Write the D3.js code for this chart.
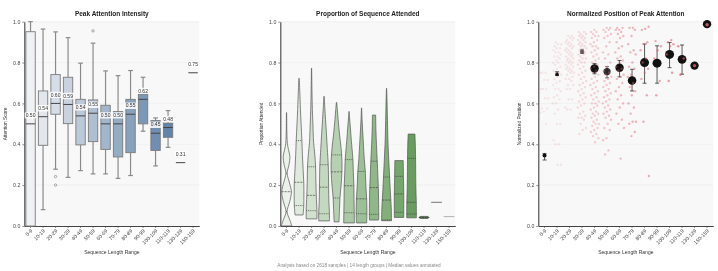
<!DOCTYPE html>
<html>
<head>
<meta charset="utf-8">
<script src="https://cdn.jsdelivr.net/npm/d3@7"></script>
<style>
    body { margin: 0; background: #fff; }
    svg { display: block; font-family: "Liberation Sans", Arial, sans-serif; will-change: transform; }
    text { -webkit-font-smoothing: antialiased; }
</style>
</head>
<body>
<div id="chart"></div>
<script>

//--- Data ---------------------------------------------------------------------------------
const groups = ['0-9', '10-19', '20-29', '30-39', '40-49', '50-59', '60-69', '70-79',
                '80-89', '90-99', '100-109', '110-119', '130-139', '150-159'];
const yTicks = [0, 0.2, 0.4, 0.6, 0.8, 1.0];

// peak attention intensity (box stats)
const boxLow    = [0.0, 0.08, 0.278, 0.238, 0.271, 0.255, 0.255, 0.233, 0.247, 0.464, 0.294, 0.385, 0.31, 0.75];
const boxQ1     = [0.0, 0.395, 0.547, 0.501, 0.397, 0.413, 0.375, 0.338, 0.359, 0.50, 0.37, 0.434, 0.31, 0.75];
const boxMedian = [0.50, 0.535, 0.60, 0.595, 0.539, 0.552, 0.50, 0.50, 0.547, 0.62, 0.454, 0.482, 0.31, 0.75];
const boxQ3     = [0.951, 0.661, 0.741, 0.728, 0.62, 0.617, 0.591, 0.56, 0.62, 0.645, 0.516, 0.504, 0.31, 0.75];
const boxHigh   = [1.0, 0.964, 0.95, 0.922, 0.797, 0.895, 0.759, 0.736, 0.761, 0.728, 0.529, 0.565, 0.31, 0.75];
const boxOutliers = [[], [], [0.242, 0.20], [], [], [0.955], [], [], [], [], [], [], [], []];
const medianLabels = ['0.50', '0.54', '0.60', '0.59', '0.54', '0.55', '0.50', '0.50', '0.55', '0.62', '0.45', '0.48', '0.31', '0.75'];

// proportion attended (violin density profiles: [value, relative density])
const violinProfiles = [
    [[0.0, 1.0], [0.03, 0.6], [0.07, 0.1], [0.12, 0.6], [0.168, 0.9], [0.215, 0.5], [0.258, 0.12], [0.30, 0.45], [0.339, 0.63], [0.375, 0.35], [0.405, 0.15], [0.46, 0.06], [0.555, 0.02]],
    [[0.054, 0.75], [0.10, 0.88], [0.15, 0.9], [0.214, 0.88], [0.28, 0.75], [0.35, 0.62], [0.418, 0.53], [0.50, 0.38], [0.57, 0.26], [0.67, 0.12], [0.723, 0.03]],
    [[0.035, 1.0], [0.075, 1.0], [0.15, 0.88], [0.22, 0.8], [0.29, 0.75], [0.35, 0.6], [0.41, 0.38], [0.50, 0.25], [0.57, 0.15], [0.66, 0.08], [0.772, 0.02]],
    [[0.025, 1.0], [0.06, 1.0], [0.12, 0.9], [0.19, 0.85], [0.25, 0.82], [0.30, 0.78], [0.38, 0.6], [0.45, 0.45], [0.52, 0.28], [0.58, 0.14], [0.635, 0.03]],
    [[0.02, 0.45], [0.08, 0.55], [0.137, 0.63], [0.20, 0.85], [0.265, 1.0], [0.32, 1.0], [0.38, 0.85], [0.45, 0.55], [0.52, 0.3], [0.57, 0.15], [0.605, 0.03]],
    [[0.015, 1.0], [0.065, 0.97], [0.13, 0.93], [0.197, 0.9], [0.26, 0.8], [0.325, 0.72], [0.38, 0.55], [0.42, 0.42], [0.48, 0.25], [0.53, 0.1], [0.56, 0.03]],
    [[0.015, 0.95], [0.06, 1.0], [0.133, 0.95], [0.20, 0.8], [0.267, 0.7], [0.33, 0.5], [0.40, 0.35], [0.46, 0.22], [0.52, 0.1], [0.578, 0.02]],
    [[0.029, 0.85], [0.057, 0.87], [0.12, 0.85], [0.188, 0.8], [0.25, 0.7], [0.317, 0.6], [0.40, 0.45], [0.47, 0.35], [0.543, 0.3]],
    [[0.026, 0.92], [0.07, 0.9], [0.127, 0.8], [0.18, 0.68], [0.24, 0.57], [0.32, 0.42], [0.40, 0.28], [0.48, 0.2], [0.55, 0.14], [0.62, 0.08], [0.674, 0.02]],
    [[0.042, 0.88], [0.067, 0.88], [0.157, 0.88], [0.243, 0.82], [0.32, 0.78]],
    [[0.04, 0.9], [0.059, 0.9], [0.116, 0.88], [0.20, 0.8], [0.331, 0.75], [0.40, 0.7], [0.45, 0.63]],
    [[0.037, 0.6], [0.042, 0.95], [0.047, 0.6]],
    [],
    []
];
const violinQ1     = [0.07, 0.10, 0.075, 0.06, 0.137, 0.065, 0.06, 0.057, 0.03, 0.067, 0.059, 0.04, 0.116, 0.046];
const violinMedian = [0.168, 0.214, 0.15, 0.19, 0.265, 0.197, 0.133, 0.188, 0.127, 0.157, 0.116, 0.042, 0.116, 0.046];
const violinQ3     = [0.258, 0.418, 0.29, 0.30, 0.348, 0.325, 0.267, 0.317, 0.24, 0.243, 0.331, 0.044, 0.116, 0.046];

// normalized position of peak attention
const peakPositions = [
    [0.75, 0.75, 0.75, 0.715, 0.715, 0.67, 0.67, 0.67, 0.625, 0.625, 0.575, 0.575, 0.56, 0.555, 0.50],
    [0.90, 0.89, 0.89, 0.88, 0.87, 0.87, 0.86, 0.85, 0.85, 0.84, 0.83, 0.83, 0.82, 0.81, 0.80, 0.80, 0.79, 0.78, 0.77, 0.76,
     0.75, 0.75, 0.74, 0.73, 0.72, 0.71, 0.70, 0.69, 0.67, 0.67, 0.66, 0.64, 0.63, 0.62, 0.60, 0.60, 0.57, 0.55, 0.50, 0.50,
     0.42, 0.40, 0.40, 0.30, 0.30],
    [0.93, 0.93, 0.92, 0.92, 0.91, 0.91, 0.90, 0.90, 0.89, 0.89, 0.88, 0.88, 0.87, 0.87, 0.86, 0.86, 0.85, 0.85, 0.84, 0.84,
     0.83, 0.83, 0.82, 0.82, 0.81, 0.81, 0.80, 0.80, 0.79, 0.79, 0.78, 0.78, 0.77, 0.77, 0.76, 0.76, 0.75, 0.75, 0.74, 0.73,
     0.72, 0.72, 0.71, 0.69, 0.69, 0.67, 0.67, 0.62, 0.62, 0.58, 0.57, 0.57],
    [0.95, 0.95, 0.94, 0.94, 0.93, 0.93, 0.92, 0.92, 0.91, 0.91, 0.90, 0.90, 0.89, 0.89, 0.88, 0.88, 0.87, 0.86, 0.86, 0.85,
     0.85, 0.84, 0.84, 0.83, 0.82, 0.82, 0.81, 0.80, 0.80, 0.79, 0.78, 0.77, 0.76, 0.75, 0.74, 0.73, 0.72, 0.71, 0.70, 0.69,
     0.68, 0.67, 0.66, 0.65, 0.64, 0.63, 0.62, 0.61, 0.60, 0.59, 0.58, 0.56, 0.55, 0.54, 0.53, 0.53, 0.52, 0.50, 0.48, 0.47, 0.45],
    [0.96, 0.95, 0.95, 0.94, 0.93, 0.93, 0.92, 0.91, 0.90, 0.89, 0.88, 0.88, 0.87, 0.86, 0.85, 0.84, 0.83, 0.82, 0.81, 0.80,
     0.79, 0.78, 0.77, 0.76, 0.75, 0.74, 0.73, 0.72, 0.71, 0.70, 0.69, 0.68, 0.67, 0.66, 0.65, 0.64, 0.63, 0.62, 0.61, 0.60,
     0.60, 0.59, 0.58, 0.57, 0.56, 0.55, 0.55, 0.54, 0.53, 0.52, 0.51, 0.50, 0.50, 0.49, 0.48, 0.47, 0.46, 0.45, 0.44, 0.43, 0.41],
    [0.97, 0.97, 0.96, 0.96, 0.95, 0.94, 0.93, 0.92, 0.90, 0.88, 0.85, 0.84, 0.82, 0.80, 0.78, 0.76, 0.75, 0.74, 0.73, 0.72,
     0.71, 0.70, 0.69, 0.68, 0.67, 0.66, 0.65, 0.64, 0.63, 0.62, 0.61, 0.60, 0.59, 0.58, 0.57, 0.56, 0.55, 0.54, 0.53, 0.52,
     0.50, 0.48, 0.47, 0.43, 0.42, 0.37, 0.35],
    [0.97, 0.97, 0.96, 0.96, 0.95, 0.94, 0.93, 0.92, 0.90, 0.88, 0.87, 0.85, 0.83, 0.82, 0.81, 0.80, 0.78, 0.77, 0.76, 0.74,
     0.73, 0.72, 0.70, 0.68, 0.66, 0.64, 0.62, 0.60, 0.58, 0.55, 0.52, 0.50, 0.48, 0.33],
    [0.97, 0.97, 0.96, 0.93, 0.89, 0.86, 0.85, 0.84, 0.80, 0.78, 0.77, 0.74, 0.73, 0.70, 0.68, 0.66, 0.64, 0.60, 0.58, 0.55,
     0.51, 0.51, 0.50, 0.46, 0.44],
    [0.975, 0.965, 0.96, 0.90, 0.89, 0.86, 0.82, 0.80, 0.77, 0.75, 0.72, 0.64, 0.51, 0.245],
    [0.905, 0.88, 0.86, 0.82, 0.71, 0.64],
    [0.91, 0.90, 0.89, 0.88, 0.84, 0.75, 0.71],
    [0.88, 0.82, 0.74],
    [0.785],
    [0.985]
];
const peakMean    = [0.345, 0.742, 0.83, 0.853, 0.771, 0.756, 0.775, 0.712, 0.80, 0.797, 0.84, 0.816, 0.785, 0.988];
const peakErrLow  = [0.323, 0.737, 0.82, 0.845, 0.745, 0.725, 0.73, 0.661, 0.699, 0.699, 0.775, 0.743, 0.785, 0.988];
const peakErrHigh = [0.355, 0.755, 0.84, 0.865, 0.795, 0.78, 0.81, 0.767, 0.891, 0.882, 0.898, 0.886, 0.785, 0.988];

//--- Layout -------------------------------------------------------------------------------
const width = 718;
const height = 271;
const panelLeft = [24.3, 280.3, 538.3];
const plotW = 175;
const plotTop = 21.7;
const plotBottom = 226;

const mySVG = d3.select('#chart')
    .append('svg')
        .attr('width', width)
        .attr('height', height)
        .attr('viewBox', [0, 0, width, height]);

function createPanel(idx, title, yLabel) {
    let left = panelLeft[idx];
    let x = d3.scaleBand()
        .domain(groups)
        .range([left, left + plotW]);
    let y = d3.scaleLinear()
        .domain([0, 1])
        .range([plotBottom, plotTop]);

    let g = mySVG.append('g');

    // background + grid
    g.append('rect')
        .attr('x', left)
        .attr('y', plotTop)
        .attr('width', plotW)
        .attr('height', plotBottom - plotTop)
        .attr('fill', '#f8f8f8');

    g.selectAll('line.grid')
        .data(yTicks.slice(1))
        .join('line')
            .attr('x1', left)
            .attr('x2', left + plotW)
            .attr('y1', d => y(d))
            .attr('y2', d => y(d))
            .attr('stroke', '#ececec')
            .attr('stroke-width', 0.6);

    // axes
    let yAxis = g.append('g')
        .attr('transform', `translate(${left},0)`)
        .call(d3.axisLeft(y).tickValues(yTicks).tickFormat(d3.format('.1f')).tickSize(2).tickSizeOuter(0).tickPadding(2));

    let xAxis = g.append('g')
        .attr('transform', `translate(0,${plotBottom})`)
        .call(d3.axisBottom(x).tickSize(2).tickSizeOuter(0));

    xAxis.selectAll('text')
        .attr('x', 0)
        .attr('y', 0)
        .attr('dy', '0.35em')
        .attr('transform', 'translate(1,4) rotate(-45)')
        .style('text-anchor', 'end');

    [xAxis, yAxis].forEach(a => {
        a.select('.domain').attr('stroke', '#444').attr('stroke-width', 1.1);
        a.selectAll('.tick line').attr('stroke', '#444').attr('stroke-width', 0.6);
        a.selectAll('text').attr('fill', '#444').style('font-size', '5.2px').style('font-family', '"Liberation Sans", Arial, sans-serif');
    });

    // titles
    g.append('text')
        .attr('x', left + plotW / 2)
        .attr('y', 15.5)
        .attr('text-anchor', 'middle')
        .style('font-size', '6.5px')
        .style('font-weight', 'bold')
        .attr('fill', '#222')
        .text(title);

    g.append('text')
        .attr('x', left + plotW / 2)
        .attr('y', 254)
        .attr('text-anchor', 'middle')
        .style('font-size', '5px')
        .attr('fill', '#333')
        .text('Sequence Length Range');

    g.append('text')
        .attr('transform', `translate(${left - 17},${(plotTop + plotBottom) / 2}) rotate(-90)`)
        .attr('text-anchor', 'middle')
        .style('font-size', '4.8px')
        .attr('fill', '#333')
        .text(yLabel);

    return {g, x, y};
}

//--- Panel 1: box plots ---------------------------------------------------------------------
let p1 = createPanel(0, 'Peak Attention Intensity', 'Attention Score');
let blueColor = i => d3.interpolateRgb('#eff1f4', '#6284aa')(Math.min(i / 11, 1));

let boxData = groups.map((grp, i) => ({
    grp: grp, i: i, low: boxLow[i], q1: boxQ1[i], med: boxMedian[i], q3: boxQ3[i], high: boxHigh[i],
    out: boxOutliers[i], label: medianLabels[i]
}));

let boxG = p1.g.selectAll('g.box')
    .data(boxData)
    .join('g')
        .attr('class', 'box');

boxG.each(function(d) {
    let sel = d3.select(this);
    let cx = p1.x(d.grp) + p1.x.bandwidth() / 2;
    let bw = p1.x.bandwidth() * 0.75;
    let y = p1.y;

    if (d.q3 > d.q1) {
        // whiskers
        [[d.low, d.q1], [d.q3, d.high]].forEach(seg => {
            sel.append('line')
                .attr('x1', cx).attr('x2', cx)
                .attr('y1', y(seg[0])).attr('y2', y(seg[1]))
                .attr('stroke', '#8a8a8a')
                .attr('stroke-width', 1.2);
        });
        [d.low, d.high].forEach(v => {
            sel.append('line')
                .attr('x1', cx - bw / 4).attr('x2', cx + bw / 4)
                .attr('y1', y(v)).attr('y2', y(v))
                .attr('stroke', '#8a8a8a')
                .attr('stroke-width', 1.2);
        });
        sel.append('rect')
            .attr('x', cx - bw / 2)
            .attr('y', y(d.q3))
            .attr('width', bw)
            .attr('height', y(d.q1) - y(d.q3))
            .attr('fill', blueColor(d.i))
            .attr('stroke', '#7a7a7a')
            .attr('stroke-width', 0.9);
    }
    sel.append('line')
        .attr('x1', cx - bw / 2).attr('x2', cx + bw / 2)
        .attr('y1', y(d.med)).attr('y2', y(d.med))
        .attr('stroke', '#444')
        .attr('stroke-width', 1);

    sel.selectAll('circle')
        .data(d.out)
        .join('circle')
            .attr('cx', cx)
            .attr('cy', v => y(v))
            .attr('r', 1.2)
            .attr('fill', 'none')
            .attr('stroke', '#777')
            .attr('stroke-width', 0.6);

    // median annotation
    let lab = sel.append('g')
        .attr('transform', `translate(${cx},${y(d.med) - 8.5})`);
    let txt = lab.append('text')
        .attr('text-anchor', 'middle')
        .attr('dy', '0.35em')
        .style('font-size', '5px')
        .attr('fill', '#333')
        .text(d.label);
    let tw = txt.node().getComputedTextLength();
    lab.insert('rect', 'text')
        .attr('x', -tw / 2 - 1)
        .attr('y', -3.2)
        .attr('width', tw + 2)
        .attr('height', 6.4)
        .attr('rx', 1)
        .attr('fill', 'white')
        .attr('opacity', 0.85);
});

//--- Panel 2: violins --------------------------------------------------------------------------
let p2 = createPanel(1, 'Proportion of Sequence Attended', 'Proportion Attended');
let greenColor = i => d3.interpolateRgb('#ebf2e9', '#5a9650')(Math.min(i / 11, 1));

function widthAt(profile, v) {
    if (!profile.length) return 1;
    if (v <= profile[0][0]) return profile[0][1];
    for (let k = 1; k < profile.length; k++) {
        if (v <= profile[k][0]) {
            let a = profile[k - 1], b = profile[k];
            return a[1] + (b[1] - a[1]) * (v - a[0]) / (b[0] - a[0]);
        }
    }
    return profile[profile.length - 1][1];
}

groups.forEach((grp, i) => {
    let cx = p2.x(grp) + p2.x.bandwidth() / 2;
    let hw = p2.x.bandwidth() * 0.43;
    let prof = violinProfiles[i];
    let y = p2.y;

    if (!prof.length) {
        p2.g.append('line')
            .attr('x1', cx - hw).attr('x2', cx + hw)
            .attr('y1', y(violinMedian[i])).attr('y2', y(violinMedian[i]))
            .attr('stroke', i === 12 ? '#666' : '#aaa')
            .attr('stroke-width', 0.9);
        return;
    }

    let area = d3.area()
        .y(d => y(d[0]))
        .x0(d => cx - hw * d[1])
        .x1(d => cx + hw * d[1])
        .curve(d3.curveCatmullRom);

    p2.g.append('path')
        .attr('d', area(prof))
        .attr('fill', greenColor(i))
        .attr('stroke', '#555')
        .attr('stroke-width', 0.7);

    [[violinQ1[i], '1,0.8'], [violinMedian[i], '2,1'], [violinQ3[i], '1,0.8']].forEach(q => {
        let w = hw * widthAt(prof, q[0]);
        p2.g.append('line')
            .attr('x1', cx - w).attr('x2', cx + w)
            .attr('y1', y(q[0])).attr('y2', y(q[0]))
            .attr('stroke', '#444')
            .attr('stroke-width', 0.7)
            .attr('stroke-dasharray', q[1]);
    });
});

//--- Panel 3: strip plot with means ---------------------------------------------------------
let p3 = createPanel(2, 'Normalized Position of Peak Attention', 'Normalized Position');
const dotOpacity = [0.12, 0.13, 0.15, 0.2, 0.28, 0.33, 0.4, 0.45, 0.5, 0.55, 0.6, 0.65, 0.8, 0.85];
const meanRadius = [2, 1.8, 0, 2.2, 4.2, 3.6, 4.2, 4.3, 4.5, 4.5, 4.5, 4.4, 4.2, 4.2];
const meanOpacity = [1, 1, 0, 0.6, 1, 0.85, 1, 1, 1, 1, 1, 1, 1, 1];

groups.forEach((grp, i) => {
    let cx = p3.x(grp) + p3.x.bandwidth() / 2;
    let y = p3.y;
    if (peakErrHigh[i] > peakErrLow[i] && meanRadius[i] > 0) {
        p3.g.append('line')
            .attr('x1', cx).attr('x2', cx)
            .attr('y1', y(peakErrLow[i])).attr('y2', y(peakErrHigh[i]))
            .attr('stroke', '#333')
            .attr('stroke-width', 0.8)
            .attr('opacity', meanOpacity[i]);
        [peakErrLow[i], peakErrHigh[i]].forEach(v => {
            p3.g.append('line')
                .attr('x1', cx - 2).attr('x2', cx + 2)
                .attr('y1', y(v)).attr('y2', y(v))
                .attr('stroke', '#333')
                .attr('stroke-width', 0.8)
                .attr('opacity', meanOpacity[i]);
        });
    }
    if (meanRadius[i] > 0) {
        p3.g.append('circle')
            .attr('cx', cx)
            .attr('cy', y(peakMean[i]))
            .attr('r', meanRadius[i])
            .attr('fill', '#111')
            .attr('opacity', meanOpacity[i]);
    }
});

// jittered points drawn on top
groups.forEach((grp, i) => {
    let cx = p3.x(grp) + p3.x.bandwidth() / 2;
    let step = p3.x.bandwidth();
    p3.g.selectAll(null)
        .data(peakPositions[i])
        .join('circle')
            .attr('cx', (d, k) => peakPositions[i].length > 1 ? cx + ((k * 0.618034 + i * 0.37) % 1 - 0.5) * 0.7 * step : cx)
            .attr('cy', d => p3.y(d))
            .attr('r', i >= 12 ? 1.7 : 1.2)
            .attr('fill', '#e0606c')
            .attr('opacity', dotOpacity[i]);
});

//--- Footer -------------------------------------------------------------------------------
mySVG.append('text')
    .attr('x', width / 2)
    .attr('y', 266.5)
    .attr('text-anchor', 'middle')
    .style('font-size', '4.7px')
    .attr('fill', '#888')
    .text('Analysis based on 2618 samples | 14 length groups | Median values annotated');

</script>
</body>
</html>
